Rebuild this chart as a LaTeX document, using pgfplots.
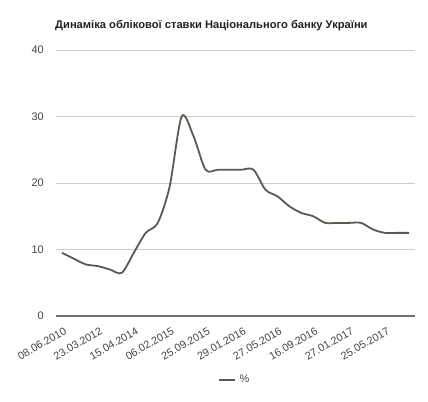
\documentclass[border=0pt]{standalone}
\usepackage{fontspec}
\setmainfont{Liberation Sans}
\usepackage{pgfplots}
\pgfplotsset{compat=1.18}
\definecolor{linec}{RGB}{88,92,76}
\definecolor{gridc}{RGB}{204,204,204}
\definecolor{tickc}{RGB}{68,68,68}
\definecolor{basec}{RGB}{110,110,110}
\begin{document}
\begin{tikzpicture}
\path[use as bounding box] (0,0) rectangle (428bp,402bp);
\node[anchor=west, inner sep=0pt, font=\bfseries\fontsize{11.2}{13}\selectfont, text=black!87] at (55bp,376bp) {Динаміка облікової ставки Національного банку України};
\begin{axis}[
  at={(56bp,86bp)}, anchor=south west,
  scale only axis, width=359bp, height=266bp,
  xmin=-0.5, xmax=29.5, ymin=0, ymax=40,
  ytick={0,10,20,30,40},
  xtick={0,3,6,9,12,15,18,21,24,27},
  xticklabels={08.06.2010,23.03.2012,15.04.2014,06.02.2015,25.09.2015,29.01.2016,27.05.2016,16.09.2016,27.01.2017,25.05.2017},
  major tick length=0pt,
  axis x line*=bottom, axis y line*=left,
  x axis line style={draw=basec, line width=1.2bp, -},
  y axis line style={draw=none},
  ymajorgrids, grid style={draw=gridc, line width=0.8bp},
  /pgf/number format/assume math mode=true,
  yticklabel style={font=\fontsize{11}{13}\selectfont, text=tickc, anchor=east, inner sep=0pt, xshift=-12bp},
  xticklabel style={font=\fontsize{10.8}{12}\selectfont, text=tickc, rotate=30, anchor=north east, inner sep=0pt, yshift=-10bp, xshift=-4bp},
  legend style={at={(axis description cs:0.5,-0.24)}, anchor=center, draw=none, fill=none, font=\fontsize{11}{13}\selectfont, text=tickc},
  legend image code/.code={\draw[#1] (0bp,0bp) -- (16bp,0bp);},
  legend cell align=left,
  legend style={nodes={inner sep=4bp}},
  clip=false,
]
\addplot[color=linec, line width=1.8bp, smooth, tension=0.5] coordinates {
(0,9.5) (1,8.6) (2,7.75) (3,7.5) (4,7.0) (5,6.5) (6,9.5) (7,12.5) (8,14) (9,19.5)
(10,30) (11,27) (12,22) (13,22) (14,22) (15,22) (16,22) (17,19) (18,18) (19,16.5)
(20,15.5) (21,15) (22,14) (23,14) (24,14) (25,14) (26,13) (27,12.5) (28,12.5) (29,12.5)
};
\addlegendentry{\%}
\end{axis}
\end{tikzpicture}
\end{document}
